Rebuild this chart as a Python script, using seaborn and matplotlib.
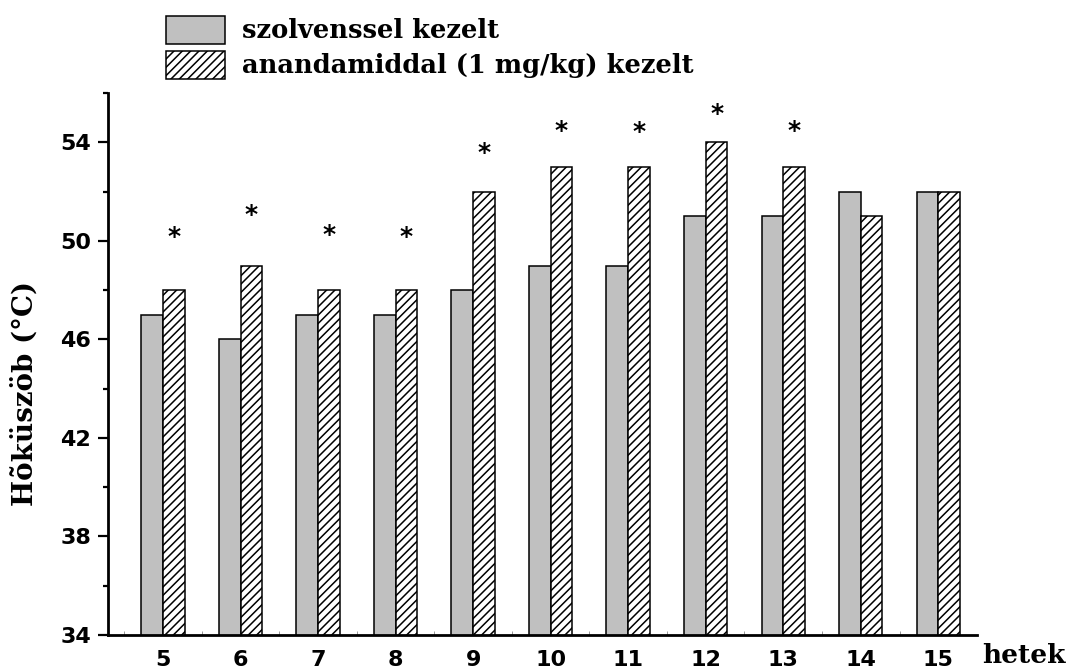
import matplotlib
matplotlib.use("Agg")
import matplotlib.pyplot as plt
import seaborn as sns
import pandas as pd
from matplotlib.ticker import MultipleLocator, FixedLocator

weeks = ["5", "6", "7", "8", "9", "10", "11", "12", "13", "14", "15"]
solvent = [47, 46, 47, 47, 48, 49, 49, 51, 51, 52, 52]
anandamide = [48, 49, 48, 48, 52, 53, 53, 54, 53, 51, 52]
# height (in °C units) of the significance stars, None = no star
star_y = [50.3, 51.2, 50.4, 50.3, 53.7, 54.6, 54.55, 55.3, 54.6, None, None]
groups = ["szolvenssel kezelt", "anandamiddal (1 mg/kg) kezelt"]

df = pd.DataFrame({
    "het": weeks * 2,
    "ertek": solvent + anandamide,
    "csoport": [groups[0]] * len(weeks) + [groups[1]] * len(weeks),
})

sns.set_style("ticks")
plt.rcParams["font.family"] = ["DejaVu Sans"]
plt.rcParams["font.weight"] = "bold"
plt.rcParams["hatch.linewidth"] = 1.1
plt.rcParams["hatch.color"] = "black"
for k in ["text.color", "axes.labelcolor", "xtick.color", "ytick.color", "axes.edgecolor"]:
    plt.rcParams[k] = "black"

fig = plt.figure(figsize=(10.69, 6.71), dpi=100)
ax = fig.add_axes([0.101, 0.0537, 0.813, 0.8075])

sns.barplot(data=df, x="het", y="ertek", hue="csoport", hue_order=groups,
            palette=["#c0c0c0", "white"], width=0.56, gap=0,
            edgecolor="black", linewidth=1.1, ax=ax, legend=True)

n = len(weeks)
for p in ax.patches[n:2 * n]:
    p.set_hatch("////")

# stars above the treated bars
for i, s in enumerate(star_y):
    if s is not None:
        ax.text(i + 0.14, s - 0.43, "*", ha="center", va="baseline",
                fontsize=18, fontweight="bold")

ax.set_ylim(34, 56)
ax.set_xlim(-0.71, 10.5)
ax.yaxis.set_major_locator(FixedLocator([34, 38, 42, 46, 50, 54]))
ax.yaxis.set_minor_locator(MultipleLocator(2))
ax.xaxis.set_minor_locator(FixedLocator([k + 0.5 for k in range(-1, 10)]))

for s in ["top", "right"]:
    ax.spines[s].set_visible(False)
for s in ["left", "bottom"]:
    ax.spines[s].set_linewidth(2)

ax.tick_params(axis="y", which="major", length=7, width=1.6, pad=5, labelsize=16)
ax.tick_params(axis="y", which="minor", length=3.5, width=1.6)
ax.tick_params(axis="x", which="major", length=0, pad=11, labelsize=16)
ax.tick_params(axis="x", which="minor", direction="in", length=3, width=0.6, color="#888888")
for lab in ax.get_xticklabels() + ax.get_yticklabels():
    lab.set_fontweight("bold")

ax.set_xlabel("")
ax.set_ylabel("Hõküszöb (°C)", family=["DejaVu Serif"], fontsize=20,
              fontweight="bold")
ax.yaxis.set_label_coords(-0.08, 0.445)

fig.text(0.997, 0.012, "hetek", family=["DejaVu Serif"], fontsize=19,
         fontweight="bold", ha="right", va="baseline")

handles, labels = ax.get_legend_handles_labels()
ax.get_legend().remove()
handles[1].set_hatch("////")
fig.legend(handles, labels, loc="upper left",
           bbox_to_anchor=(153 / 1069, 1 - 3 / 671),
           frameon=False, borderpad=0, handlelength=2.3, handleheight=1.3,
           handletextpad=0.65, labelspacing=0.26,
           prop={"family": "DejaVu Serif", "weight": "bold", "size": 18.5})

fig.savefig("out.png", dpi=100)
